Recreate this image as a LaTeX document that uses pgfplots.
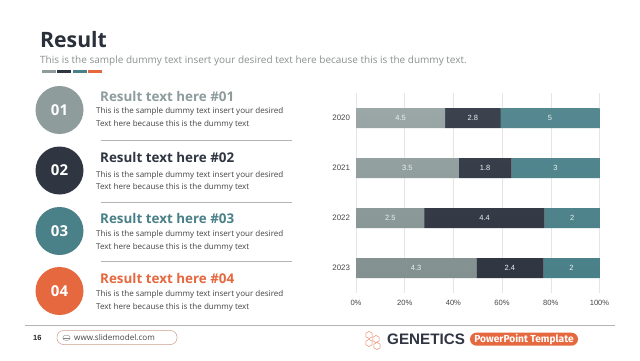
\documentclass[border=0pt]{standalone}
\usepackage{fontspec}
\setmainfont{Open Sans}
\newfontfamily\arial{Liberation Sans}
\newfontfamily\fira{Fira Sans}
\usepackage{pgfplots}
\usepackage{pgfplotstable}
\pgfplotsset{compat=1.18}
\definecolor{cgray}{HTML}{8E9C9C}
\definecolor{cdark}{HTML}{2F3642}
\definecolor{cteal}{HTML}{4A8088}
\definecolor{corange}{HTML}{E5683F}
\definecolor{csub}{HTML}{8C9090}
\definecolor{cbody}{HTML}{444444}
\definecolor{cline}{HTML}{B4B4B4}
\pgfplotstableread{
y  a    b    c    la  lb  lc
0  36.6 22.8 40.6 4.5 2.8 5
1  42.2 21.7 36.1 3.5 1.8 3
2  28.1 49.4 22.5 2.5 4.4 2
3  49.4 27.6 23.0 4.3 2.4 2
}\resulttable
\newcommand{\T}[5]{\node[anchor=base west,inner sep=0pt,text=#3,font=#4] at (#1pt,#2pt) {#5};}
\newcommand{\fs}[1]{\fontsize{#1}{#1}\selectfont}
\begin{document}
\begin{tikzpicture}[x=1pt,y=1pt]
\fill[white] (0,0) rectangle (640,360);
% header
\T{40}{312.5}{cdark!90!black}{\fs{21.2}\bfseries}{Result}
\T{40}{297}{csub}{\fs{10}}{This is the sample dummy text insert your desired text here because this is the dummy text.}
\fill[cgray] (41.5,287) rectangle (56,290);
\fill[cdark] (57,287) rectangle (71,290);
\fill[cteal] (73,287) rectangle (87,290);
\fill[corange] (88,287) rectangle (102,290);
% circles
\foreach \cy/\col/\n in {250/cgray/01,189.5/cdark/02,129/cteal/03,69/corange/04}{
  \fill[\col] (59.5,\cy) circle (24);
  \node[text=white,font=\fs{15}\bfseries] at (59.5,\cy) {\n};
}
% text blocks
\foreach \b/\la/\lb/\col/\n in {259/246.5/234/cgray/01,197.5/183/170.5/cdark/02,137/123.5/111/cteal/03,77/63.5/51/corange/04}{
  \T{100}{\b}{\col}{\fs{13.4}\bfseries}{Result text here \#\n}
  \T{96}{\la}{cbody}{\fs{8.05}}{This is the sample dummy text insert your desired}
  \T{96}{\lb}{cbody}{\fs{8.05}}{Text here because this is the dummy text}
}
\foreach \yy in {219.5,158,98.5}{\draw[cline,line width=0.7pt] (101,\yy)--(292,\yy);}
% footer
\draw[cline,line width=0.7pt] (25,34.5)--(615,34.5);
\T{33}{20}{black!85}{\arial\fs{7.5}\bfseries}{16}
\draw[corange!55!gray!70,line width=0.5pt,fill=white,rounded corners=6.5pt] (57,15.5) rectangle (177,29.5);
\draw[gray,line width=0.35pt] (66.5,22.2) ellipse (3.7 and 2.8);
\draw[gray,line width=0.25pt] (62.8,22.2)--(70.2,22.2);
\T{74}{19.5}{cbody}{\fs{8.1}}{www.slidemodel.com}
% molecule icon
\begin{scope}[corange!80,line width=0.45pt]
\foreach \cx/\cy in {369/25,376/21,369/17,377/14}{
  \draw (\cx,\cy+3.6)--(\cx+3.1,\cy+1.8)--(\cx+3.1,\cy-1.8)--(\cx,\cy-3.6)--(\cx-3.1,\cy-1.8)--(\cx-3.1,\cy+1.8)--cycle;
}
\end{scope}
\T{387}{16}{cdark}{\arial\fs{15.2}\bfseries}{GENETICS}
\fill[corange,rounded corners=6.5pt] (470,14.3) rectangle (578,27.3);
\node[text=white,font=\fira\fs{10.2}\bfseries,inner sep=0pt] at (524,20.8) {PowerPoint Template};
% chart
\begin{axis}[
  at={(356pt,67pt)},anchor=south west,
  scale only axis,width=243.5pt,height=200pt,
  xbar stacked,bar width=20pt,
  xmin=0,xmax=100,ymin=-0.5,ymax=3.5,y dir=reverse,
  axis x line*=bottom,axis y line*=left,
  axis line style={draw=none},
  xmajorgrids,grid style={draw=black!10,line width=0.5pt},
  xtick={0,20,40,60,80,100},
  xticklabels={0\%,20\%,40\%,60\%,80\%,100\%},
  ytick={0,1,2,3},yticklabels={2020,2021,2022,2023},
  tick style={draw=none},
  tick label style={font=\arial\fs{7.6},text=black!72},
  xticklabel style={yshift=-3.5pt},
  yticklabel style={xshift=-2.5pt,font=\arial\fs{7.9}},
  clip=false,
  nodes near coords,
  every node near coord/.style={anchor=center,font=\arial\fs{7.5},text=white!88!cteal,inner sep=0pt},
]
\addplot[draw=none,top color=cgray!88!white,bottom color=cgray!92!black,point meta=explicit symbolic] table[x=a,y=y,meta=la] \resulttable;
\addplot[draw=none,top color=cdark!94!white,bottom color=cdark,point meta=explicit symbolic] table[x=b,y=y,meta=lb] \resulttable;
\addplot[draw=none,top color=cteal!94!white,bottom color=cteal,point meta=explicit symbolic] table[x=c,y=y,meta=lc] \resulttable;
\end{axis}
\end{tikzpicture}
\end{document}
